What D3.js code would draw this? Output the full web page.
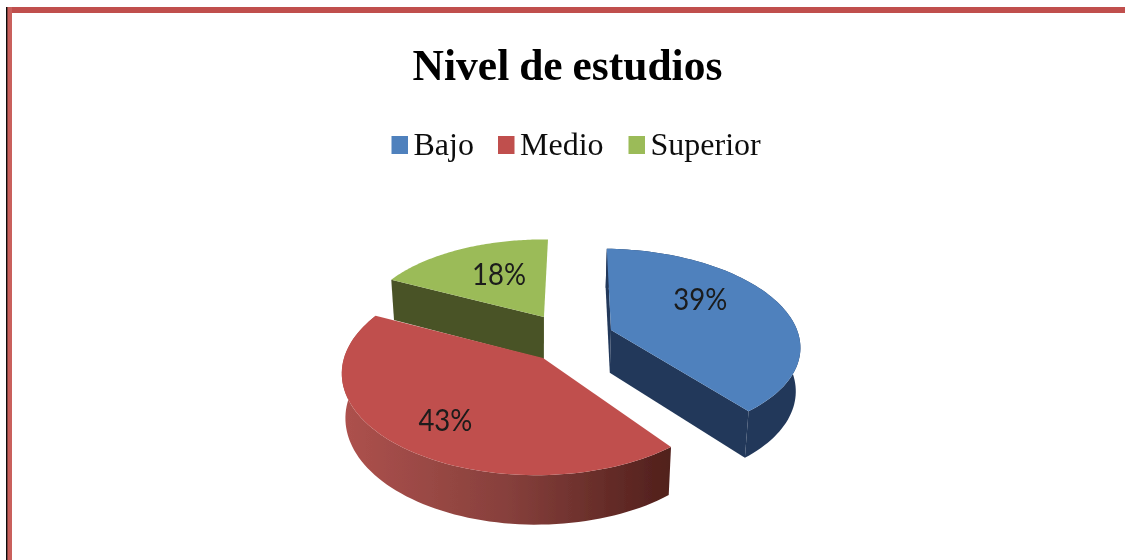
<!DOCTYPE html>
<html>
<head>
<meta charset="utf-8">
<script src="https://cdn.jsdelivr.net/npm/d3@7"></script>
<style>
html,body{margin:0;padding:0;background:#fff;overflow:hidden}
svg{display:block}
</style>
</head>
<body>
<svg id="chart" width="1125" height="560"></svg>
<script>
const titleText = "Nivel de estudios";
const categories = ["Bajo", "Medio", "Superior"];
const values = [39, 43, 18];
const topColors = ["#4f81bd", "#c0504d", "#9bbb59"];
const sideColors = ["#22385a", "url(#redRim)", "#4a5326"];

// Projection of the tilted pie plane
const W = 1125, H = 560;
const center = [543, 358], scaleX = 197, scaleY = 102, persp = 0.15, depth = 44, depthShrink = 0.982;
const explode = [[0.36, -0.286], [0, 0], [0.005, -0.428]];
const rimShift = [[0, -0.005], [-0.03, 0], [0, 0]];
const rimRadius = [0.985, 0.98, 0.98];
const showRim = [true, true, false];
const labelTurn = [-15.7, 0, 4];
const labelRadius = [0.62, 0.717, 0.574];
const drawOrder = [2, 0, 1];

const svg = d3.select("#chart");
const defs = svg.append("defs");
defs.append("filter").attr("id", "soft").attr("x", 0).attr("y", 0).attr("width", 1).attr("height", 1)
  .append("feGaussianBlur").attr("stdDeviation", 0.7);
const grad = defs.append("linearGradient").attr("id", "redRim")
  .attr("gradientUnits", "userSpaceOnUse").attr("x1", 345).attr("x2", 668).attr("y1", 0).attr("y2", 0);
grad.append("stop").attr("offset", 0).attr("stop-color", "#ad514d");
grad.append("stop").attr("offset", 0.5).attr("stop-color", "#87403c");
grad.append("stop").attr("offset", 1).attr("stop-color", "#51201c");

svg.append("rect").attr("width", W).attr("height", H).attr("fill", "#fff");
const root = svg.append("g").attr("filter", "url(#soft)");

// Frame
root.append("rect").attr("x", 6).attr("y", 7).attr("width", W - 6).attr("height", 6).attr("fill", "#c0504d");
root.append("rect").attr("x", 7).attr("y", 7).attr("width", 5).attr("height", H - 7).attr("fill", "#c9605c");
root.append("rect").attr("x", 6).attr("y", 7).attr("width", 1.4).attr("height", H - 7).attr("fill", "#111");

// Title
root.append("text").attr("x", 567.5).attr("y", 80).attr("text-anchor", "middle")
  .attr("font-family", "Liberation Serif").attr("font-weight", "bold").attr("font-size", 43.5)
  .attr("word-spacing", -1).attr("fill", "#000").text(titleText);

// Legend
const legendX = d3.scaleOrdinal().domain(categories).range([391.5, 498, 628.5]);
const legend = root.append("g").selectAll("g").data(categories).join("g");
legend.append("rect").attr("x", d => legendX(d)).attr("y", 136)
  .attr("width", 16.5).attr("height", 18).attr("fill", (d, i) => topColors[i]);
legend.append("text").attr("x", d => legendX(d) + 22).attr("y", 155)
  .attr("font-family", "Liberation Serif").attr("font-size", 32)
  .attr("fill", "#111").text(d => d);

// Pie
const pie = d3.pie().sort(null).value(d => d)
  .startAngle(1.5 * Math.PI / 180).endAngle((361.5) * Math.PI / 180);
const arcs = pie(values);

function project(X, Y, down) {
  const s = 1 / (1 - persp * Y);
  const dx = scaleX * X * s, dy = scaleY * Y * s;
  return down
    ? [center[0] + dx * depthShrink, center[1] + dy * depthShrink + depth * s]
    : [center[0] + dx, center[1] + dy];
}
function planePoint(i, a, r) {
  return [explode[i][0] + r * Math.sin(a), explode[i][1] - r * Math.cos(a)];
}
const line = d3.line();
function rimPoints(i, d, down) {
  const n = 80;
  return d3.range(n + 1).map(k => {
    const p = planePoint(i, d.startAngle + (d.endAngle - d.startAngle) * k / n, rimRadius[i]);
    return project(p[0] + rimShift[i][0], p[1] + rimShift[i][1], down);
  });
}
const pieG = root.append("g");
drawOrder.forEach(i => {
  const d = arcs[i];
  const g = pieG.append("g");
  const apexT = project(explode[i][0], explode[i][1], false);
  const apexB = project(explode[i][0], explode[i][1], true);
  const top = rimPoints(i, d, false), bot = rimPoints(i, d, true);
  const last = top.length - 1;
  // radial walls that face the viewer
  const walls = [];
  if (i === 0) walls.push([top[last], bot[last]], [top[0], bot[0]]);
  if (i === 2) walls.push([top[0], bot[0]]);
  walls.forEach(e => {
    g.append("path").attr("d", line([apexT, e[0], e[1], apexB]) + "Z").attr("fill", sideColors[i]);
  });
  // outer rim
  if (showRim[i]) {
    g.append("path").attr("d", line(top.concat(bot.slice().reverse())) + "Z").attr("fill", sideColors[i]);
  }
  // top face
  g.append("path").attr("d", line([apexT].concat(top)) + "Z").attr("fill", topColors[i]);
});

// Percent labels
const total = d3.sum(values);
const fmt = d3.format(".0%");
arcs.forEach((d, i) => {
  const a = (d.startAngle + d.endAngle) / 2 + labelTurn[i] * Math.PI / 180;
  const p = planePoint(i, a, labelRadius[i]);
  const q = project(p[0], p[1], false);
  root.append("text").attr("x", q[0]).attr("y", q[1]).attr("dy", "0.36em").attr("text-anchor", "middle")
    .attr("font-family", "Lato").attr("font-size", 30).attr("fill", "#1a1a1a")
    .attr("textLength", 54).attr("lengthAdjust", "spacingAndGlyphs")
    .text(fmt(d.value / total));
});
</script>
</body>
</html>
